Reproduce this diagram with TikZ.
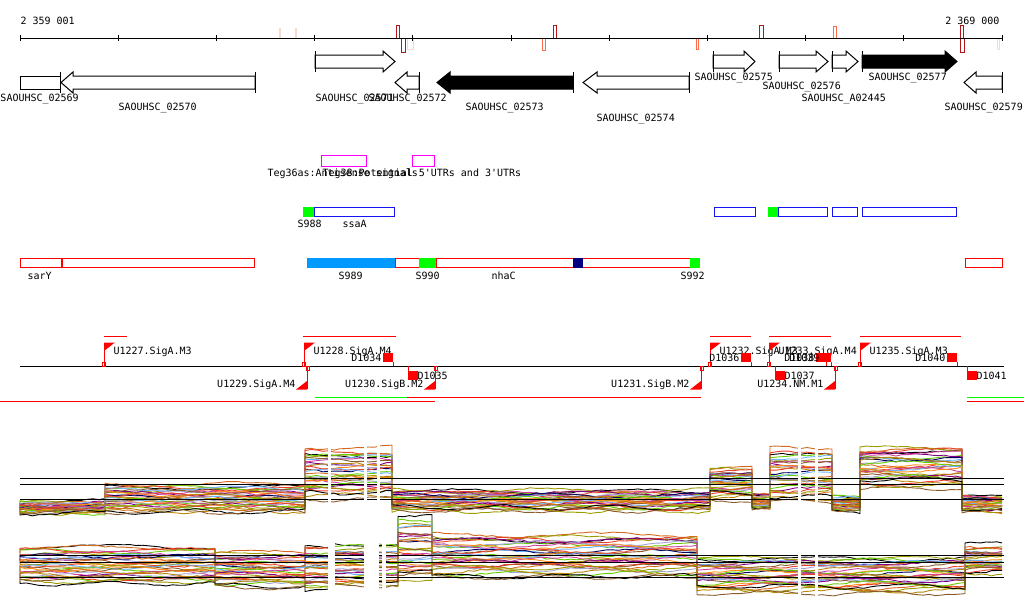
\documentclass[tikz,border=0pt]{standalone}
\usepackage{fontspec}
\setmonofont{DejaVu Sans Mono}
\definecolor{markdark}{HTML}{B01818}
\definecolor{markmid}{HTML}{FF6A4A}
\definecolor{markpale}{HTML}{F6D9CB}
\definecolor{featred}{HTML}{FF0000}
\definecolor{featblue}{HTML}{1414F0}
\definecolor{featgreen}{HTML}{00FF00}
\definecolor{featsky}{HTML}{0099FF}
\definecolor{featnavy}{HTML}{000080}
\definecolor{featpink}{HTML}{FF00FF}
\definecolor{tA}{HTML}{D2691E}
\definecolor{tB}{HTML}{9C9C00}
\definecolor{tC}{HTML}{66CC00}
\definecolor{tD}{HTML}{E8402A}
\definecolor{tE}{HTML}{800080}
\definecolor{tF}{HTML}{6CB4FF}
\definecolor{tG}{HTML}{CC3F99}
\definecolor{tH}{HTML}{A4A4D4}
\definecolor{tI}{HTML}{8B5A2B}
\definecolor{tJ}{HTML}{000060}
\definecolor{tK}{HTML}{FF8C1A}
\definecolor{tL}{HTML}{B8860B}
\tikzset{
  lab/.style={inner sep=0pt,anchor=base west,font=\ttfamily\fontsize{10}{12}\selectfont},
  labr/.style={lab,anchor=base east},
  trace/.style={line width=0.9pt,line join=round}
}
\begin{document}
\begin{tikzpicture}[x=1pt,y=-1pt,line width=1pt]
\fill[white] (0,0) rectangle (1024,611);
\useasboundingbox (0,0) rectangle (1024,611);

\foreach \mx/\mw/\mt/\mb/\mc in {279/1/28/38/markpale, 295/1/28/38/markpale, 396/3/25/38/markdark, 401/4/38/52/markdark, 407/6/38/49/markpale, 542/3/38/50/markmid, 553/3/25/38/markdark, 696/2/38/49/markmid, 759/4/25/38/markdark, 833/3/26/38/markmid, 960/3/25/38/markdark, 960/4/38/52/markdark, 997/2/38/49/markpale}
  \draw[\mc] (\mx,\mt) rectangle ({\mx+\mw},\mb);
\draw (20,38) -- (1002,38);
\foreach \k in {0,...,10} \draw ({20+98.2*\k},35) -- ({20+98.2*\k},41);
\node[lab] (posl) at (20,24) {2 359 001};
\node[labr] (posr) at (1000,24) {2 369 000};

\foreach \xs/\xb/\xt/\gf in {315/383/395/white, 713/744/755/white, 779/816/828/white, 832/846/858/white, 862/945/957/black}{
  \draw[fill=\gf] (\xs,55) -- (\xb,55) -- (\xb,51) -- (\xt,61.5) -- (\xb,72) -- (\xb,68) -- (\xs,68) -- cycle;
  \draw (\xs,51) -- (\xs,72);
}
\draw (20,76) rectangle (60,89);
\foreach \xs/\xb/\xt/\gf in {255/73/61/white, 419/407/395/white, 573/450/437/black, 689/597/583/white, 1002/976/964/white}{
  \draw[fill=\gf] (\xs,76) -- (\xb,76) -- (\xb,72) -- (\xt,82.5) -- (\xb,93) -- (\xb,89) -- (\xs,89) -- cycle;
  \draw (\xs,72) -- (\xs,93);
}
\draw (60,72) -- (60,93);
\foreach \gx/\gy/\gt [count=\k] in {0/101/SAOUHSC\_02569, 118/110/SAOUHSC\_02570, 315/101/SAOUHSC\_02571, 368/101/SAOUHSC\_02572, 465/110/SAOUHSC\_02573, 596/121/SAOUHSC\_02574, 694/80/SAOUHSC\_02575, 762/89/SAOUHSC\_02576, 801/101/SAOUHSC\_A02445, 868/80/SAOUHSC\_02577, 944/110/SAOUHSC\_02579}
  \node[lab] (gene\k) at (\gx,\gy) {\gt};

\draw[featpink] (321,155) rectangle (366,166);
\draw[featpink] (412,155) rectangle (434,166);
\node[lab] (teg36) at (267,176) {Teg36as:Antisense signals};
\node[lab] (teg38) at (322,176) {Teg38:Potential 5'UTRs and 3'UTRs};

\fill[featgreen] (303,207) rectangle (314,217);
\fill[featgreen] (768,207) rectangle (778,217);
\foreach \xa/\xb in {314/394, 714/755, 778/827, 832/857, 862/956}
  \draw[featblue] (\xa,207.5) rectangle (\xb,216.5);
\node[lab] (s988) at (297,227) {S988};
\node[lab] (ssaa) at (342,227) {ssaA};

\foreach \xa/\xb in {20/61, 62/254, 395/419, 436/690, 965/1002}
  \draw[featred] (\xa,258.5) rectangle (\xb,267.5);
\fill[featsky] (307,258) rectangle (395,268);
\fill[featgreen] (419,258) rectangle (436,268);
\fill[featgreen] (690,258) rectangle (700,268);
\fill[featnavy] (573,258) rectangle (583,268);
\foreach \lx/\lt in {27/sarY, 338/S989, 415/S990, 491/nhaC, 680/S992}
  \node[lab] (rna\lt) at (\lx,279) {\lt};

\draw (20,366) -- (1004,366);
\foreach \xa/\xb in {104/127, 303/396, 710/751, 769/831, 860/961}
  \draw[featred] (\xa,336) -- (\xb,336);
\foreach \px/\pn in {104/U1227.SigA.M3, 304/U1228.SigA.M4, 710/U1232.SigA.M3, 769/U1233.SigA.M4, 860/U1235.SigA.M3}{
  \draw[featred] (\px-2,362) rectangle (\px+1,366);
  \draw[featred] (\px,366) -- (\px,343);
  \fill[featred] (\px,342.5) -- (\px+11,342.5) -- (\px,351) -- cycle;
  \node[lab] (\pn) at (\px+9,354) {\pn};
}
\foreach \px/\pn in {307/U1229.SigA.M4, 435/U1230.SigB.M2, 701/U1231.SigB.M2, 835/U1234.NM.M1}{
  \draw[featred] (\px-1,366) rectangle (\px+2,370);
  \draw[featred] (\px,366) -- (\px,389);
  \fill[featred] (\px,389.5) -- (\px-11,389.5) -- (\px,381) -- cycle;
  \node[labr] (\pn) at (\px-11,387) {\pn};
}
\foreach \tx/\tn in {383/D1034, 741/D1036, 816/D1038, 821/D1039, 947/D1040}{
  \fill[featred] (\tx,353) rectangle (\tx+10,362);
  \draw[featred] (\tx+10,362) -- (\tx+10,366);
  \node[labr] (\tn) at (\tx-1,361) {\tn};
}
\foreach \tx/\tn in {408/D1035, 775/D1037, 967/D1041}{
  \draw[featred] (\tx,366) -- (\tx,371);
  \fill[featred] (\tx,371) rectangle (\tx+10,380);
  \node[lab] (\tn) at (\tx+9,379) {\tn};
}
\draw[featgreen] (315,397) -- (407,397);
\draw[featred] (407,397) -- (701,397);
\draw[featred] (0,401) -- (435,401);
\draw[featgreen] (967,397) -- (1024,397);
\draw[featred] (967,401) -- (1024,401);

\pgfmathsetseed{11}
\foreach \col [count=\i] in {black,tA,tB,tC,tD,tE,tF,tG,tH,tI,tJ,tK,tL,tA,tD,tC,tB,tF,tG,tI,tK,tE,tH,tA,tD,tC,tL,tB,black,tI}{
  \draw[trace,\col] (20,{503+10*(\i-2)/28})
    \foreach \xa/\xb/\ya/\yb/\np in {20/105/503/513/14, 105/305/487/511/33, 305/392/452/495/15, 392/710/492/510/53, 710/752/470/497/7, 752/770/495/508/3, 770/832/453/498/10, 832/860/498/510/5, 860/962/450/485/17, 962/1002/497/511/7}{
      \foreach \k in {0,...,\np}{
        -- ({\xa+\k/\np*(\xb-\xa)},{\ya+(\yb-\ya)*((\i-2)/28+0.12*sin(\i*137+\xa*7))+2.2*sin((\xa+\k/\np*(\xb-\xa))*(2+0.05*\i)+\i*61)+0.8*rand})
      }
    };
  \draw[trace,\col] (20,{550+32*(\i-2)/28})
    \foreach \xa/\xb/\ya/\yb/\np in {20/215/550/582/32, 215/305/555/585/15, 305/330/550/588/5, 330/398/548/585/11, 398/432/523/577/6, 432/697/538/575/44, 697/965/560/591/45, 965/1002/548/572/7}{
      \foreach \k in {0,...,\np}{
        -- ({\xa+\k/\np*(\xb-\xa)},{\ya+(\yb-\ya)*((\i-2)/28+0.12*sin(\i*113+\xa*5))+2.2*sin((\xa+\k/\np*(\xb-\xa))*(2+0.04*\i)+\i*47)+0.8*rand})
      }
    };
}
\foreach \ry in {478,484,499,555,562,577}
  \draw (20,\ry) -- (1004,\ry);
\foreach \xa/\xb in {328/331, 364/367, 377/380, 798/801, 815/818}
  \fill[white] (\xa,440) rectangle (\xb,525);
\foreach \xa/\xb in {328/335, 364/379, 382/386, 798/801, 815/818}
  \fill[white] (\xa,518) rectangle (\xb,600);
\end{tikzpicture}
\end{document}
